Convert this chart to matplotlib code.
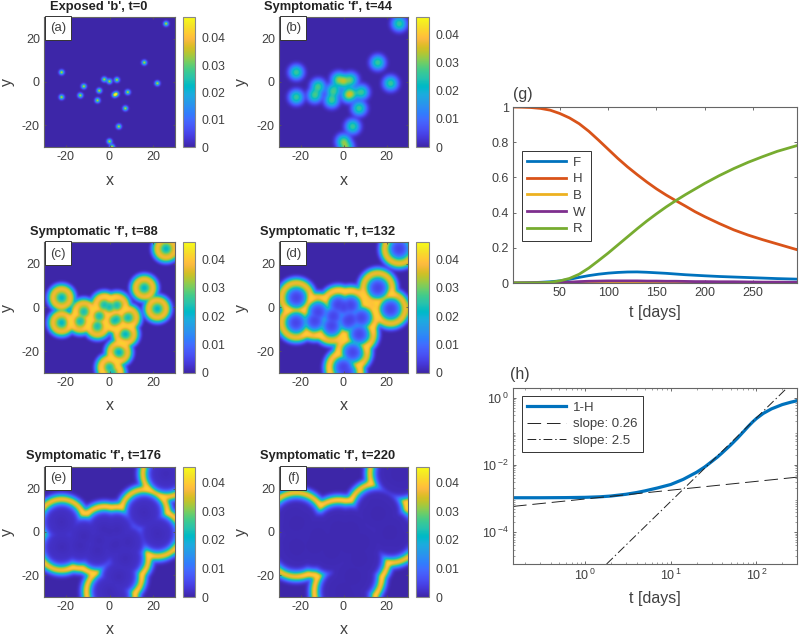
import numpy as np
import matplotlib
matplotlib.use("Agg")
import matplotlib.pyplot as plt
from matplotlib.colors import LinearSegmentedColormap
from matplotlib.patches import Rectangle
from matplotlib.ticker import LogLocator, NullFormatter

plt.rcParams['font.family'] = ['Liberation Sans', 'DejaVu Sans']
plt.rcParams['mathtext.fontset'] = 'custom'
plt.rcParams['mathtext.rm'] = 'Liberation Sans'
plt.rcParams['axes.unicode_minus'] = False

PARULA = [[0.2422,0.1504,0.6603],[0.2504,0.1650,0.7076],[0.2578,0.1818,0.7511],[0.2647,0.1978,0.7952],
[0.2706,0.2147,0.8364],[0.2751,0.2342,0.8710],[0.2783,0.2559,0.8991],[0.2803,0.2782,0.9221],
[0.2813,0.3006,0.9414],[0.2810,0.3228,0.9579],[0.2795,0.3447,0.9717],[0.2760,0.3667,0.9829],
[0.2699,0.3892,0.9906],[0.2602,0.4123,0.9952],[0.2440,0.4358,0.9988],[0.2206,0.4603,0.9973],
[0.1963,0.4847,0.9892],[0.1834,0.5074,0.9798],[0.1786,0.5289,0.9682],[0.1764,0.5499,0.9520],
[0.1687,0.5703,0.9359],[0.1540,0.5902,0.9218],[0.1460,0.6091,0.9079],[0.1380,0.6276,0.8973],
[0.1248,0.6459,0.8883],[0.1113,0.6635,0.8763],[0.0952,0.6798,0.8598],[0.0689,0.6948,0.8394],
[0.0297,0.7082,0.8163],[0.0036,0.7203,0.7917],[0.0067,0.7312,0.7660],[0.0433,0.7411,0.7394],
[0.0964,0.7500,0.7120],[0.1408,0.7584,0.6842],[0.1717,0.7670,0.6554],[0.1938,0.7758,0.6251],
[0.2161,0.7843,0.5923],[0.2470,0.7918,0.5567],[0.2906,0.7973,0.5188],[0.3406,0.8008,0.4789],
[0.3909,0.8029,0.4354],[0.4456,0.8024,0.3909],[0.5044,0.7993,0.3480],[0.5616,0.7942,0.3045],
[0.6174,0.7876,0.2612],[0.6720,0.7793,0.2227],[0.7242,0.7698,0.1910],[0.7738,0.7598,0.1646],
[0.8203,0.7498,0.1535],[0.8634,0.7406,0.1596],[0.9035,0.7330,0.1774],[0.9393,0.7288,0.2100],
[0.9728,0.7298,0.2394],[0.9956,0.7434,0.2371],[0.9970,0.7659,0.2199],[0.9952,0.7893,0.2028],
[0.9892,0.8136,0.1885],[0.9786,0.8386,0.1766],[0.9676,0.8639,0.1643],[0.9610,0.8890,0.1537],
[0.9597,0.9135,0.1423],[0.9628,0.9373,0.1265],[0.9691,0.9606,0.1064],[0.9769,0.9839,0.0805]]
parula = LinearSegmentedColormap.from_list('parula', PARULA, N=256)

# outbreak seed locations
seed_x = [26, 16, -22, -2.4, 0, 3.4, 22, -11.8, -4.7, 8.4, 3.2, 2.3, -13.4, -22, -5.5, 7.3, 4.3, 0, 1.2]
seed_y = [27, 9, 4.5, 1.2, 0.3, 1, -0.6, -2, -4, -4.7, -5.5, -6, -6.2, -7, -8.5, -12.2, -20.6, -27.5, -30]

# radial value profiles around seeds, distance -> value
prof_a_d = [0, 0.4, 0.8, 1.2, 1.8, 2.4]
prof_a_v = [0.042, 0.034, 0.018, 0.007, 0.001, 0]
prof_b_d = [0, 1, 2, 3, 4, 5, 6]
prof_b_v = [0.028, 0.026, 0.020, 0.012, 0.005, 0.001, 0]
prof_c_d = [0, 1, 2, 3, 4, 5, 6, 7, 8]
prof_c_v = [0.020, 0.022, 0.028, 0.036, 0.038, 0.036, 0.021, 0.006, 0]
prof_d_d = [0, 2, 3, 4, 5, 6, 7, 8, 9, 10, 11]
prof_d_v = [0.004, 0.006, 0.009, 0.015, 0.028, 0.037, 0.038, 0.035, 0.016, 0.004, 0]
prof_e_d = [0, 6, 7.5, 8.5, 9.5, 10.5, 11.5, 12.5, 13.5, 15]
prof_e_v = [0.001, 0.002, 0.005, 0.014, 0.033, 0.040, 0.038, 0.018, 0.004, 0]
prof_f_d = [0, 9, 10.5, 11.5, 12.5, 13.5, 14.5, 15.5, 16.5, 18]
prof_f_v = [0.0005, 0.001, 0.005, 0.014, 0.033, 0.040, 0.038, 0.018, 0.004, 0]

panel_keys = ['a', 'b', 'c', 'd', 'e', 'f']
panel_titles = ["Exposed 'b', t=0", "Symptomatic 'f', t=44", "Symptomatic 'f', t=88",
                "Symptomatic 'f', t=132", "Symptomatic 'f', t=176", "Symptomatic 'f', t=220"]
panel_vmax = [0.0477, 0.0461, 0.046, 0.046, 0.0456, 0.0456]
panel_profiles = [(prof_a_d, prof_a_v), (prof_b_d, prof_b_v), (prof_c_d, prof_c_v),
                  (prof_d_d, prof_d_v), (prof_e_d, prof_e_v), (prof_f_d, prof_f_v)]
panel_overlap = [1.0, 0.35, 0.1, 0.1, 0.08, 0.08]
panel_blur = [0.15, 0.6, 0.5, 0.6, 0.7, 0.7]

# panel (g)
t_g = [1, 10, 20, 30, 40, 50, 60, 70, 80, 90, 100, 110, 120, 130, 140, 150, 160, 170, 180, 190, 200, 215, 230, 245, 260, 275, 295]
H_g = [1.0, 0.999, 0.997, 0.992, 0.982, 0.963, 0.938, 0.905, 0.862, 0.812, 0.76, 0.708, 0.66, 0.616, 0.574, 0.535, 0.50, 0.468, 0.437, 0.405, 0.377, 0.338, 0.302, 0.272, 0.246, 0.222, 0.19]
R_g = [0, 0, 0, 0.001, 0.004, 0.012, 0.026, 0.05, 0.085, 0.127, 0.17, 0.216, 0.262, 0.308, 0.352, 0.393, 0.432, 0.468, 0.502, 0.534, 0.566, 0.61, 0.65, 0.686, 0.718, 0.748, 0.78]
F_g = [0, 0.001, 0.002, 0.004, 0.007, 0.012, 0.021, 0.032, 0.042, 0.05, 0.056, 0.06, 0.0625, 0.063, 0.061, 0.058, 0.055, 0.051, 0.047, 0.044, 0.041, 0.037, 0.034, 0.031, 0.028, 0.025, 0.022]
B_g = [0, 0, 0, 0, 0.0003, 0.0005, 0.001, 0.0015, 0.002, 0.002, 0.002, 0.002, 0.002, 0.002, 0.002, 0.002, 0.0015, 0.0015, 0.0015, 0.001, 0.001, 0.001, 0.001, 0.001, 0.0005, 0.0005, 0.0005]
W_g = [0, 0, 0.0005, 0.001, 0.002, 0.003, 0.005, 0.008, 0.01, 0.011, 0.012, 0.012, 0.012, 0.012, 0.011, 0.011, 0.01, 0.01, 0.009, 0.008, 0.008, 0.007, 0.007, 0.006, 0.005, 0.005, 0.004]
labels_g = ['F', 'H', 'B', 'W', 'R']
colors_g = ['#0072BD', '#D95319', '#EDB120', '#7E2F8E', '#77AC30']

# panel (h)
t_h = [0.145, 0.3, 0.6, 1, 1.5, 2, 3, 4, 5, 7, 10, 14, 20, 25, 30, 35, 40, 50, 60, 70, 80, 90, 100, 120, 150, 200, 250, 297]
y_h = [1.05e-3, 1.05e-3, 1.06e-3, 1.08e-3, 1.12e-3, 1.18e-3, 1.33e-3, 1.5e-3, 1.68e-3, 2.05e-3, 2.6e-3, 3.7e-3, 6e-3, 8.7e-3, 1.25e-2, 1.7e-2, 2.3e-2, 3.9e-2, 6.2e-2, 0.095, 0.138, 0.188, 0.24, 0.34, 0.465, 0.623, 0.73, 0.81]
t_slope1 = [0.145, 297]
y_slope1 = [5.8e-4, 4.3e-3]
t_slope2 = [1.79, 227]
y_slope2 = [1.12e-5, 1.94]

GREY = '#404040'
W, H_ = 800, 637


def add_axes_px(x0, y0, x1, y1):
    return fig.add_axes([x0 / W, 1 - y1 / H_, (x1 - x0) / W, (y1 - y0) / H_])


def style(ax):
    for s in ax.spines.values():
        s.set_color('#666666')
        s.set_linewidth(0.8)


def blur(field, sigma, step):
    r = int(np.ceil(3 * sigma / step))
    k = np.exp(-0.5 * (np.arange(-r, r + 1) * step / sigma) ** 2)
    k /= k.sum()
    out = np.pad(field, r, mode='edge')
    out = np.apply_along_axis(lambda m: np.convolve(m, k, mode='same'), 0, out)
    out = np.apply_along_axis(lambda m: np.convolve(m, k, mode='same'), 1, out)
    return out[r:-r, r:-r]


fig = plt.figure(figsize=(8, 6.37), dpi=100)

grid = np.linspace(-30, 30, 300)
step = grid[1] - grid[0]
XX, YY = np.meshgrid(grid, grid)
dists = np.stack([np.hypot(XX - sx, YY - sy) for sx, sy in zip(seed_x, seed_y)])
dsort = np.sort(dists, axis=0)

rects = [(44, 17, 175, 147), (279, 17, 408, 147),
         (44, 242, 175, 373), (279, 242, 408, 373),
         (44, 467, 175, 597), (279, 467, 408, 597)]
cbars = [(183, 195), (416, 429)] * 3
title_xy = [(99, 7), (328, 7), (94, 232), (327.5, 232), (93.5, 456), (327.5, 456)]

for i, key in enumerate(panel_keys):
    x0, y0, x1, y1 = rects[i]
    ax = add_axes_px(x0, y0, x1, y1)
    d_p, v_p = panel_profiles[i]
    if i < 2:
        all_p = np.interp(dists, d_p, v_p)
        top = all_p.max(axis=0)
        field = top + panel_overlap[i] * (all_p.sum(axis=0) - top)
    else:
        p1 = np.interp(dsort[0], d_p, v_p)
        p2 = np.interp(dsort[1], d_p, v_p)
        field = p1 * (1 + panel_overlap[i] * p2 / max(v_p))
    field = blur(field, panel_blur[i], step)
    im = ax.imshow(field, origin='lower', extent=[-30, 30, -30, 30], cmap=parula,
                   vmin=0, vmax=panel_vmax[i], interpolation='bilinear', aspect='auto')
    ax.set_xticks([-20, 0, 20])
    ax.set_yticks([-20, 0, 20])
    ax.tick_params(direction='in', length=1.5, width=0.6, color='#555555',
                   labelsize=9, labelcolor=GREY, pad=3, top=True, right=True)
    style(ax)
    fig.text((x0 + x1) / 2 / W, 1 - (y1 + 33) / H_, 'x', ha='center', va='center', fontsize=11.5, color=GREY)
    fig.text((x0 - 37 if i % 2 == 0 else x0 - 38) / W, 1 - (y0 + y1) / 2 / H_, 'y', rotation=90,
             ha='center', va='center', fontsize=11.5, color=GREY)
    fig.text(title_xy[i][0] / W, 1 - title_xy[i][1] / H_, panel_titles[i], ha='center', va='center',
             fontsize=9.3, fontweight='bold', color='#222222')
    fig.add_artist(Rectangle((x0 / W + 0.001, 1 - (y0 + 23) / H_), 26 / W, 24 / H_, transform=fig.transFigure,
                             facecolor='white', edgecolor='#333333', linewidth=0.7, zorder=5))
    fig.text((x0 + 14) / W, 1 - (y0 + 11.5) / H_, '(%s)' % key, ha='center', va='center',
             fontsize=9.5, color=GREY, zorder=6)
    cax = add_axes_px(cbars[i][0], y0, cbars[i][1], y1)
    cb = fig.colorbar(im, cax=cax)
    cb.set_ticks([0, 0.01, 0.02, 0.03, 0.04])
    cb.set_ticklabels(['0', '0.01', '0.02', '0.03', '0.04'])
    cax.tick_params(length=0, labelsize=8.7, labelcolor=GREY, pad=4.5)
    cb.outline.set_edgecolor('#888888')
    cb.outline.set_linewidth(0.8)

# panel (g)
ax = add_axes_px(513, 107, 797, 283)
series_g = [F_g, H_g, B_g, W_g, R_g]
for j in range(5):
    ax.plot(t_g, series_g[j], color=colors_g[j], lw=2.0, label=labels_g[j], solid_joinstyle='round')
ax.set_xlim(1.5, 295.5)
ax.set_ylim(0, 1)
ax.set_xticks([50, 100, 150, 200, 250])
ax.set_yticks([0, 0.2, 0.4, 0.6, 0.8, 1])
ax.set_yticklabels(['0', '0.2', '0.4', '0.6', '0.8', '1'])
ax.tick_params(direction='in', length=2.5, width=0.6, color='#555555', labelsize=9,
               labelcolor=GREY, pad=3, top=True, right=True)
style(ax)
fig.text(655 / W, 1 - 312 / H_, 't [days]', ha='center', va='center', fontsize=11.5, color=GREY)
fig.text(523 / W, 1 - 94 / H_, '(g)', ha='center', va='center', fontsize=11.5, color=GREY)
leg = ax.legend(loc='upper left', bbox_to_anchor=((522 - 513) / 284, (283 - 151) / 176), borderaxespad=0,
                fontsize=9.5, handlelength=2.95, labelspacing=0.34, frameon=True, fancybox=False,
                framealpha=1, edgecolor='#333333', borderpad=0.4, handletextpad=0.5, labelcolor=GREY)
leg.get_frame().set_linewidth(0.7)

# panel (h)
ax = add_axes_px(513, 388, 797, 564)
ax.set_xscale('log')
ax.set_yscale('log')
ax.plot(t_h, y_h, color='#0072BD', lw=2.3, label='1-H', solid_joinstyle='round')
ax.plot(t_slope1, y_slope1, color='#222222', lw=0.7, dashes=(14, 6), label='slope: 0.26')
ax.plot(t_slope2, y_slope2, color='#222222', lw=0.7, dashes=(9, 3, 1.5, 3), label='slope: 2.5')
ax.set_xlim(0.145, 297)
ax.set_ylim(1.12e-5, 1.94)
ax.set_xticks([1, 10, 100])
ax.set_xticklabels([r'10$^{\,0}$', r'10$^{\,1}$', r'10$^{\,2}$'])
ax.set_yticks([1, 1e-2, 1e-4])
ax.set_yticklabels([r'10$^{\,0}$', r'10$^{\,\mathregular{-2}}$', r'10$^{\,\mathregular{-4}}$'])
ax.xaxis.set_minor_locator(LogLocator(base=10, subs=np.arange(2, 10), numticks=20))
ax.yaxis.set_minor_locator(LogLocator(base=10, subs=np.arange(2, 10), numticks=20))
ax.xaxis.set_minor_formatter(NullFormatter())
ax.yaxis.set_minor_formatter(NullFormatter())
ax.tick_params(which='major', direction='in', length=2.5, width=0.6, color='#555555', labelsize=9,
               labelcolor=GREY, pad=3, top=True, right=True)
ax.tick_params(which='minor', direction='in', length=1.3, width=0.4, color='#555555', top=True, right=True)
style(ax)
fig.text(655 / W, 1 - 598 / H_, 't [days]', ha='center', va='center', fontsize=11.5, color=GREY)
fig.text(520 / W, 1 - 375 / H_, '(h)', ha='center', va='center', fontsize=11.5, color=GREY)
leg = ax.legend(loc='upper left', bbox_to_anchor=((522 - 513) / 284, (564 - 396) / 176), borderaxespad=0,
                fontsize=9.5, handlelength=2.95, labelspacing=0.34, frameon=True, fancybox=False,
                framealpha=1, edgecolor='#333333', borderpad=0.4, handletextpad=0.5, labelcolor=GREY)
leg.get_frame().set_linewidth(0.7)

fig.savefig('out.png', dpi=100)
